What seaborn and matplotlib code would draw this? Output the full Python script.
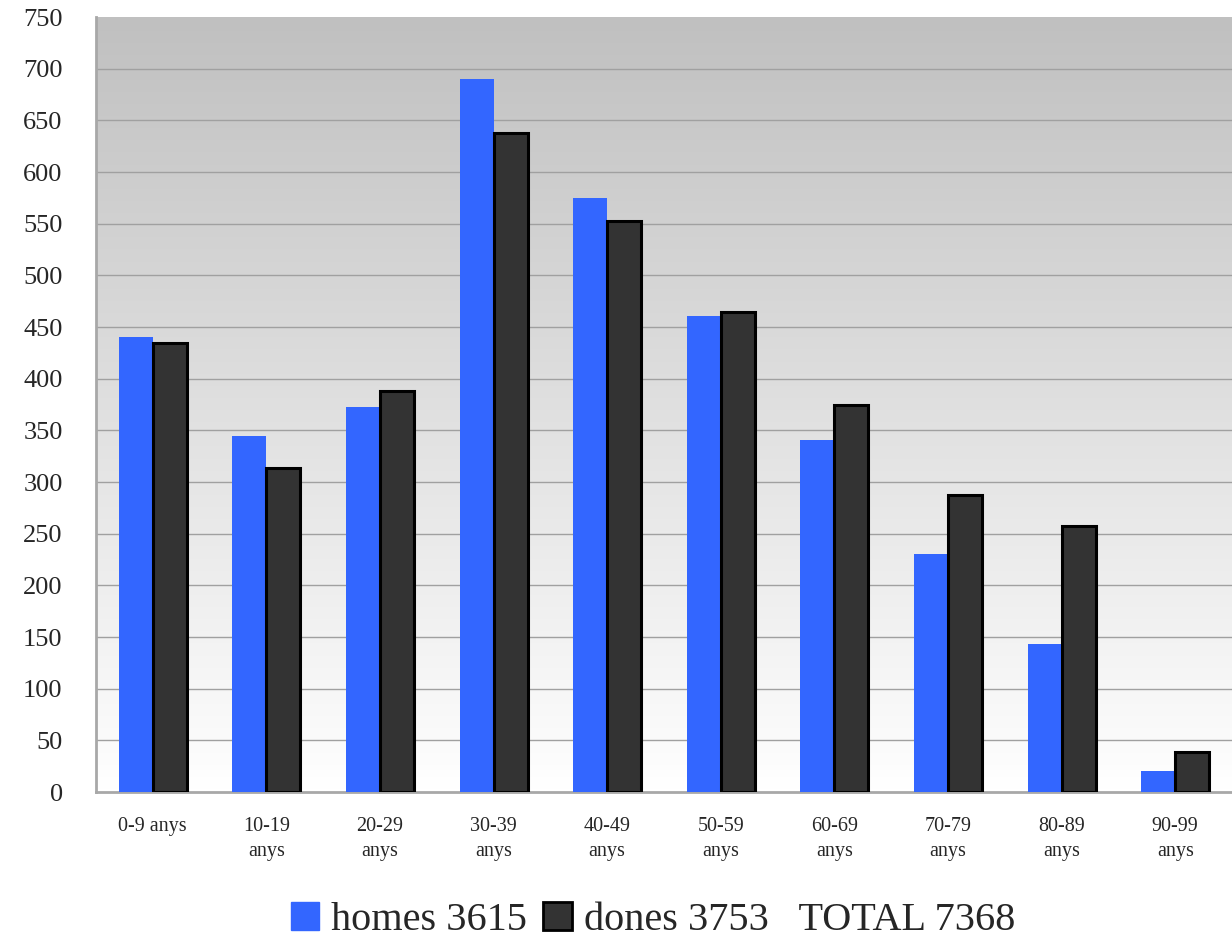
import numpy as np
import pandas as pd
import matplotlib
matplotlib.use("Agg")
import matplotlib.pyplot as plt
import matplotlib.patches as mpatches
import seaborn as sns

# Data
grups = ["0-9 anys", "10-19\nanys", "20-29\nanys", "30-39\nanys", "40-49\nanys",
         "50-59\nanys", "60-69\nanys", "70-79\nanys", "80-89\nanys", "90-99\nanys"]
homes = [440, 345, 373, 690, 575, 461, 341, 230, 143, 20]
dones = [435, 314, 388, 638, 553, 465, 375, 287, 257, 39]
etiquetes = ["homes 3615", "dones 3753   TOTAL 7368"]
y_ticks = list(range(0, 751, 50))

df = pd.DataFrame({
    "grup": grups * 2,
    "valor": homes + dones,
    "sexe": ["homes"] * len(grups) + ["dones"] * len(grups),
})

sns.set_style("white")
plt.rcParams["font.family"] = ["Liberation Serif", "DejaVu Serif"]

fig = plt.figure(figsize=(12.32, 9.4), dpi=100)
ax = fig.add_axes([0.0779, 0.1574, 0.9221, 0.8245])

# gradient background (grey at top -> white at bottom)
grad = np.linspace(0, 1, 256).reshape(-1, 1)
cmap = matplotlib.colors.LinearSegmentedColormap.from_list("bg", ["#ffffff", "#c0c0c0"])
ax.imshow(grad, extent=[-0.5, 9.5, 0, 750], origin="lower", aspect="auto",
          cmap=cmap, zorder=0)

sns.barplot(data=df, x="grup", y="valor", hue="sexe", ax=ax,
            palette=["#3366ff", "#333333"], width=0.6, saturation=1,
            legend=False, zorder=3)

# dones bars have a black outline
for bar in ax.containers[1]:
    bar.set_edgecolor("black")
    bar.set_linewidth(2.2)
for bar in ax.containers[0]:
    bar.set_linewidth(0)

ax.set_xlim(-0.5, 9.5)
ax.set_ylim(0, 750)
ax.set_yticks(y_ticks)
ax.set_yticklabels([str(t) for t in y_ticks], fontsize=19)
ax.tick_params(axis="y", length=0, pad=24)
ax.tick_params(axis="x", length=0, pad=18, labelsize=14.5)
for lab in ax.get_xticklabels():
    lab.set_linespacing(1.45)
ax.set_xlabel("")
ax.set_ylabel("")

for t in y_ticks[1:-1]:
    ax.axhline(t, color="#a0a0a0", linewidth=1, zorder=1)

for side in ["top", "right"]:
    ax.spines[side].set_visible(False)
ax.spines["left"].set_color("#a8a8a8")
ax.spines["left"].set_linewidth(2)
ax.spines["bottom"].set_color("#a8a8a8")
ax.spines["bottom"].set_linewidth(2)

handles = [
    mpatches.Patch(facecolor="#3366ff", edgecolor="#3366ff"),
    mpatches.Patch(facecolor="#333333", edgecolor="black", linewidth=2),
]
fig.legend(handles, etiquetes, loc="center", bbox_to_anchor=(0.53, 0.021),
           ncol=2, frameon=False, fontsize=29, handlelength=0.7,
           handleheight=0.7, handletextpad=0.3, columnspacing=0.4)

fig.savefig("out.png", dpi=100)
plt.close(fig)
